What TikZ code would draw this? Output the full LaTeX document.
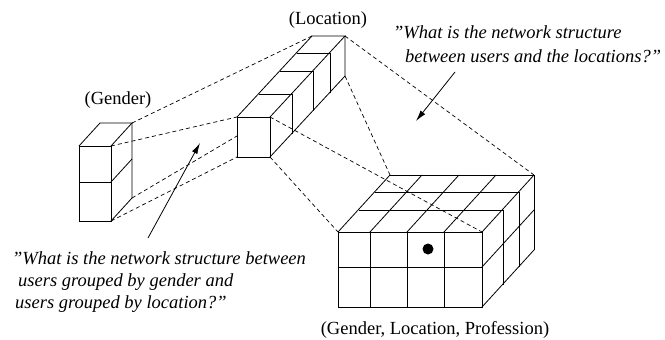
\documentclass[tikz,border=0pt]{standalone}
\usepackage{fontspec}
\setmainfont{Liberation Serif}
\usetikzlibrary{arrows.meta}
\begin{document}
\begin{tikzpicture}[x=1pt,y=-1pt,
  edge/.style={line width=0.8pt, line join=miter},
  proj/.style={line width=0.7pt, dash pattern=on 4pt off 3pt},
  callout/.style={line width=0.8pt, -{Latex[length=11pt,width=6pt]}},
  lbl/.style={font=\fontsize{18.5}{22}\selectfont, inner sep=0pt},
  qtext/.style={font=\fontsize{18.5}{22}\selectfont\itshape, inner sep=0pt, anchor=base west}]
\useasboundingbox (0,0) rectangle (665,340);

% ---------- Gender stack ----------
\coordinate (gFTL) at (79,146);  \coordinate (gFTR) at (111,146);
\coordinate (gFML) at (79,182);  \coordinate (gFMR) at (111,182);
\coordinate (gFBL) at (79,221);  \coordinate (gFBR) at (111,221);
\coordinate (gBTL) at (100,123); \coordinate (gBTR) at (132,123);
\coordinate (gBMR) at (132,159); \coordinate (gBBR) at (132,198);
\draw[edge] (gFTL) rectangle (gFBR);
\draw[edge] (gFML) -- (gFMR);
\draw[edge] (gFTL) -- (gBTL) -- (gBTR) -- (gFTR);
\draw[edge] (gBTR) -- (gBBR) -- (gFBR);
\draw[edge] (gFMR) -- (gBMR);

% ---------- Location bar ----------
\coordinate (lFTL) at (237,117); \coordinate (lFTR) at (270,117);
\coordinate (lFBL) at (237,157); \coordinate (lFBR) at (270,157);
\coordinate (lBTL) at (312,36);  \coordinate (lBTR) at (345,36);
\coordinate (lBBR) at (345,76);
\coordinate (lHid) at (237,136);
\draw[edge] (lFTL) rectangle (lFBR);
\draw[edge] (lFTL) -- (lBTL) -- (lBTR) -- (lFTR);
\draw[edge] (lBTR) -- (lBBR) -- (lFBR);
\foreach \dx/\dy in {22/-23, 43/-46, 60/-64}
  \draw[edge] (237+\dx,117+\dy) -- (270+\dx,117+\dy) -- (270+\dx,157+\dy);

% ---------- Big cube ----------
\coordinate (bFTL) at (338,232); \coordinate (bFTR) at (482,232);
\coordinate (bFBR) at (482,307);
\coordinate (bBTL) at (390,175); \coordinate (bBTR) at (534,175);
\draw[edge] (bFTL) rectangle (bFBR);
\draw[edge] (338,267) -- (482,267);
\foreach \x in {370,407,444} \draw[edge] (\x,232) -- (\x,307);
\foreach \dx/\dy in {21/-22, 37/-40, 52/-57}
  \draw[edge] (338+\dx,232+\dy) -- (482+\dx,232+\dy);
\foreach \x in {338,370,407,444,482} \draw[edge] (\x,232) -- (\x+52,175);
\draw[edge] (482,267) -- (534,210);
\draw[edge] (482,307) -- (534,250);
\foreach \dx/\dy in {21/-22, 37/-40, 52/-57}
  \draw[edge] (482+\dx,232+\dy) -- (482+\dx,307+\dy);
\fill (428,249) circle[radius=5.5pt];

% ---------- projection lines ----------
\draw[proj] (gBTR) -- (lBTL);
\draw[proj] (gFTR) -- (lFTL);
\draw[proj] (gBBR) -- (lHid);
\draw[proj] (gFBR) -- (lFBL);
\draw[proj] (lBTR) -- (bBTR);
\draw[proj] (lFTR) -- (bFTR);
\draw[proj] (lFBR) -- (bFTL);
\draw[proj] (lBBR) -- (bBTL);

% ---------- labels ----------
\node[lbl] (glabel) at (118,100) {(Gender)};
\node[lbl] (llabel) at (328,20) {(Location)};
\node[lbl] (blabel) at (435,330) {(Gender, Location, Profession)};

\node[qtext] (q1a) at (393,38) {"What is the network structure};
\node[qtext] (q1b) at (405,62) {between users and the locations?"};
\node[qtext] (q2a) at (12,264) {"What is the network structure between};
\node[qtext] (q2b) at (18,286) {users grouped by gender and};
\node[qtext] (q2c) at (15,308) {users grouped by location?"};

% ---------- callout arrows ----------
\coordinate (a1s) at (455,72);  \coordinate (a1e) at (416,121);
\coordinate (a2s) at (148,238); \coordinate (a2e) at (200,143);
\draw[callout] (a1s) -- (a1e);
\draw[callout] (a2s) -- (a2e);
\end{tikzpicture}
\end{document}
